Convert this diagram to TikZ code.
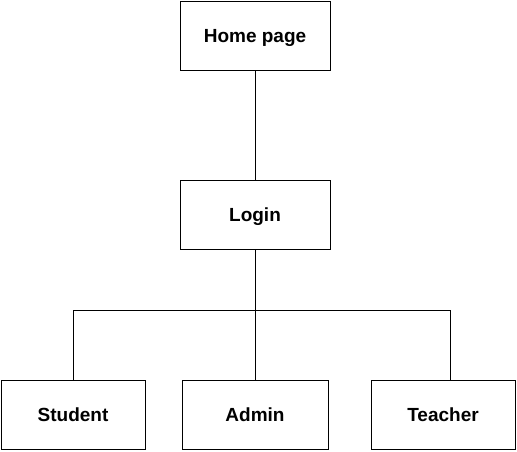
\documentclass[tikz,border=0pt]{standalone}
\usepackage{fontspec}
\setmainfont{Liberation Sans}
\usepackage{tikz}
\tikzset{
    pagebox/.style={draw=black, line width=1pt, minimum height=69pt, inner sep=0pt,
        text height=13.5pt, text depth=0pt,
        font=\fontsize{19}{22}\selectfont\bfseries},
    link/.style={draw=black, line width=1pt}
}

\begin{document}
\begin{tikzpicture}[x=1pt, y=1pt]
        \useasboundingbox (0,0) rectangle (517,-451);

        \node[pagebox, minimum width=150pt] (home) at (255,-35.5) {Home page};
        \node[pagebox, minimum width=150pt] (login) at (255,-214.5) {Login};
        \node[pagebox, minimum width=144pt] (student) at (73,-414.5) {Student};
        \node[pagebox, minimum width=146pt] (admin) at (255,-414.5) {Admin};
        \node[pagebox, minimum width=144pt] (teacher) at (443,-414.5) {Teacher};

        \coordinate (jl) at (73,-310);
        \coordinate (jr) at (450,-310);

        \draw[link] (home) -- (login);
        \draw[link] (login) -- (admin);
        \draw[link] (jl) -- (jr);
        \draw[link] (jl) -- (student);
        \draw[link] (jr) -- (jr |- teacher.north);
    \end{tikzpicture}
\end{document}
